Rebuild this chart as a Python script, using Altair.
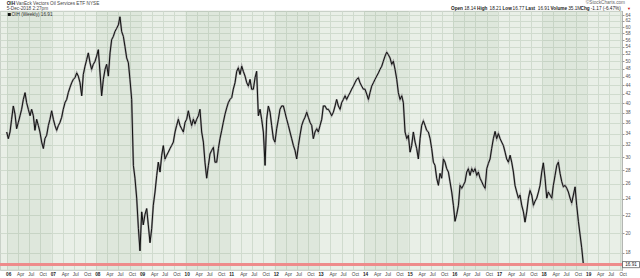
import altair as alt
import pandas as pd

seg_2006_2010 = [
    34.3, 33.1, 34.3, 36.7, 39.4, 37.7, 34.9, 36.1, 37.4, 38.7,
    40.8, 42.3, 40.1, 38.7, 37.4, 38.7, 37.4, 34.6, 36.7, 35.5,
    34.3, 32.5, 31.4, 33.1, 33.7, 35.5, 36.7, 38.4, 36.7, 35.5,
    34.6, 35.5, 36.1, 37.1, 38.7, 40.1, 40.8, 42.3, 43.5, 44.6,
    45.4, 45.8, 47.0, 46.2, 44.6, 41.6, 46.6, 48.7, 50.5, 52.3,
    49.6, 47.9, 49.2, 50.0, 51.4, 53.2, 47.0, 41.6, 45.4, 47.9,
    49.2, 46.2, 52.3, 56.1, 57.1, 58.6, 59.6, 60.7, 63.4, 58.6,
    57.1, 54.1, 50.9, 49.6, 45.4, 40.8, 28.7, 26.8, 24.1, 20.5,
    18.2, 22.4, 20.9, 22.1, 22.8, 20.9, 19.0, 20.5, 23.2, 24.9,
    27.2, 29.2, 27.7, 30.3, 31.9, 29.7, 30.3, 30.8, 31.4, 31.9,
    32.5, 34.3, 35.5, 36.7, 35.5, 34.9, 34.3, 36.1, 36.7, 38.4,
    36.7, 35.5, 36.7, 35.8, 36.7, 37.4, 38.7, 34.3, 32.5, 29.2,
    26.8, 28.7, 30.5, 31.1, 31.6,
]
seg_2010_2015 = [
    29.2, 29.2, 31.4, 33.1, 34.6, 36.1, 37.7, 39.0, 40.1, 40.8,
    41.2, 43.1, 44.6, 47.4, 48.3, 46.6, 48.7, 47.4, 46.2, 44.6,
    43.8, 45.4, 43.1, 43.1, 45.8, 47.4, 37.4, 38.7, 36.7, 34.3,
    28.7, 36.7, 39.4, 38.1, 35.5, 33.1, 32.5, 34.9, 36.7, 38.7,
    39.4, 39.4, 38.1, 36.7, 35.5, 34.3, 33.1, 31.9, 31.1, 29.7,
    31.9, 33.7, 35.5, 36.4, 37.1, 38.1, 37.1, 36.1, 35.5, 33.1,
    34.3, 34.9, 34.3, 35.5, 36.7, 39.4, 39.4, 38.7, 38.7, 38.1,
    37.4, 38.1, 39.4, 40.8, 39.4, 38.7, 40.1, 40.8, 41.6, 40.8,
    41.6, 42.3, 43.1, 43.8, 44.6, 45.4, 45.8, 44.6, 43.8, 43.1,
    43.1, 42.0, 40.8, 42.3, 43.8, 44.6, 45.4, 46.2, 47.0, 47.9,
    48.7, 50.0, 51.4, 52.5, 51.8, 50.9, 49.2, 50.0, 47.9, 45.4,
    42.3, 40.8, 41.6, 40.1, 34.3, 33.1, 33.7, 30.8, 31.9, 34.3,
    32.5, 31.4, 29.7, 33.1, 35.5, 36.4,
]
seg_2015_2018 = [
    35.5, 34.6, 34.3, 33.1, 31.4, 29.2, 28.7, 26.8, 25.8, 27.5,
    26.8, 29.7, 29.2, 28.2, 27.7, 26.3, 24.9, 23.2, 21.3, 22.1,
    23.2, 25.8, 25.4, 25.8, 26.3, 27.7, 28.2, 27.2, 28.2, 27.7,
    28.2, 27.2, 27.7, 26.8, 26.3, 25.8, 25.4, 28.2, 29.0, 29.7,
    31.4, 33.1, 34.4, 33.1, 34.0, 33.1, 32.5, 31.9, 30.8, 29.7,
    29.2, 30.3, 29.2, 27.7, 25.8, 24.9, 24.1, 24.5, 23.2, 22.4,
    21.2, 22.4, 24.1, 25.1, 24.5, 23.2, 23.7, 24.1, 24.9, 25.8,
    27.7, 29.1, 26.8, 24.1, 24.9, 24.5, 24.1, 25.8, 27.2, 28.7,
    29.2, 27.5, 26.3, 25.6, 25.8, 25.4, 24.9, 24.1, 23.5, 24.5,
    25.6, 23.2, 21.3, 19.8, 18.5, 16.91,
]
first_date = "2005-12-29"
last_price = 16.91
y_ticks = list(range(18, 66, 2))
shaded_years = [2006, 2008, 2010, 2012, 2014, 2016, 2018]
tick_years = list(range(2006, 2020))
tick_months = ["01", "04", "07", "10"]
month_names = {"01": None, "04": "Apr", "07": "Jul", "10": "Oct"}

title_name = "VanEck Vectors Oil Services ETF NYSE"
title_date = "5-Dec-2018 2:27pm"
legend_text = "OIH (Weekly) 16.91"
quote_parts = [("Open", "bold"), ("18.14", "normal"), ("High", "bold"), ("18.21", "normal"),
               ("Low", "bold"), ("16.77", "normal"), ("Last", "bold"), ("16.91", "normal"),
               ("Volume", "bold"), ("35.1M", "normal"), ("Chg", "bold"), ("-1.17 (-6.47%)", "normal")]

# ---- tables ----
prices = seg_2006_2010 + seg_2010_2015 + seg_2015_2018
dates = pd.date_range(first_date, periods=len(prices), freq=pd.Timedelta(hours=327.5))
df = pd.DataFrame({"date": dates.strftime("%Y-%m-%d"), "price": prices})
bands = pd.DataFrame({"start": [f"{y}-01-01" for y in shaded_years],
                      "end": [f"{y + 1}-01-01" for y in shaded_years]})
tick_rows = []
for y in tick_years:
    for m in tick_months:
        name = month_names[m]
        tick_rows.append({"date": f"{y}-{m}-01",
                          "label": f"{y % 100:02d}" if name is None else name,
                          "kind": "year" if name is None else "month"})
ticks_df = pd.DataFrame(tick_rows)

FONT = "Liberation Sans"
FS = 4.7
GRID = "#d0dbce"

x_scale = alt.Scale(type="utc", domain=["2005-11-04", "2019-10-14"])
y_scale = alt.Scale(type="log", domain=[16.43, 65.38], nice=False)

x_axis = alt.Axis(values=[r["date"] for r in tick_rows], title=None, labels=False,
                  ticks=False, domain=False, grid=True, gridColor=GRID, gridWidth=1)
y_axis = alt.Axis(
    orient="right", values=y_ticks, format="d", title=None,
    labelFontSize=FS, labelColor="#555", labelFont=FONT, labelPadding=1,
    labelOverlap=False, labelFlush=False, labelBound=False,
    tickSize=2, tickColor="#999", domain=True, domainColor="#999", domainDash=[1, 1],
    grid=True, gridColor=GRID, gridWidth=1,
)

base = alt.Chart(df)

band_layer = alt.Chart(bands).mark_rect(color="#5a7a55", opacity=0.07).encode(
    x=alt.X("start:T", scale=x_scale, axis=x_axis), x2="end:T")

red_line = alt.Chart(df).mark_rule(color="#f08a8a", strokeWidth=1.5).encode(
    y=alt.datum(last_price))

halo = base.mark_line(color="#a0a0a0", strokeWidth=2.0).encode(
    x=alt.X("date:T", scale=x_scale, axis=x_axis),
    y=alt.Y("price:Q", scale=y_scale, axis=y_axis))
line = base.mark_line(color="#111111", strokeWidth=1.0).encode(
    x=alt.X("date:T", scale=x_scale, axis=x_axis), y=alt.Y("price:Q", scale=y_scale, axis=y_axis))

month_labels = alt.Chart(ticks_df).transform_filter("datum.kind == 'month'").mark_text(
    font=FONT, fontSize=FS, color="#444", align="left", baseline="middle", dx=-1).encode(
    x=alt.X("date:T", scale=x_scale, axis=x_axis), y=alt.value(263.5), text="label:N")
year_labels = alt.Chart(ticks_df).transform_filter("datum.kind == 'year'").mark_text(
    font=FONT, fontSize=FS, fontWeight="bold", color="#222", align="left", baseline="middle", dx=-1).encode(
    x=alt.X("date:T", scale=x_scale, axis=x_axis), y=alt.value(263.5), text="label:N")

one = pd.DataFrame({"k": [0]})
box = alt.Chart(one).mark_point(shape="M-1,-0.36L1,-0.36L1,0.36L-1,0.36Z", size=289, filled=True,
                                fill="#ffffff", stroke="#333333", strokeWidth=0.6, opacity=1).encode(
    x=alt.value(631), y=alt.datum(last_price))
box_text = alt.Chart(one).mark_text(text=f"{last_price:.2f}", font=FONT, fontSize=FS, color="#222",
                                    align="center", baseline="middle").encode(
    x=alt.value(631), y=alt.datum(last_price))


def label(text, x, y, weight="normal", align="left", color="#333333", size=FS):
    return alt.Chart(one).mark_text(text=text, font=FONT, fontSize=size, fontWeight=weight,
                                    color=color, align=align, baseline="middle").encode(
        x=alt.value(x), y=alt.value(y))


texts = [
    label("OIH", 6.7, -7, weight="bold", color="#222"),
    label(title_name, 16, -7, color="#444"),
    label(title_date, 6.7, -2, color="#444"),
    label(legend_text, 11.5, 3.5, color="#333"),
    label("©StockCharts.com", 625, -7.7, align="right", color="#666"),
    label("▼", 627, -2, color="#d01010", size=4),
]
legend_sq = alt.Chart(one).mark_square(color="#111", size=9, opacity=1).encode(
    x=alt.value(9.3), y=alt.value(3.5))

quote_x = [451, 464.2, 477, 489.6, 502.5, 512.6, 525.5, 537.8, 550.5, 568.2, 580.5, 590.8]
for (txt, wt), qx in zip(quote_parts, quote_x):
    texts.append(label(txt, qx, -2, weight=wt, color="#222"))

chart = alt.layer(band_layer, halo, line, red_line, month_labels, year_labels,
                  box, box_text, legend_sq, *texts).properties(
    width=622, height=259,
    autosize=alt.AutoSizeParams(type="none"),
    padding={"left": 0, "top": 11, "right": 18, "bottom": 8},
    background="#ffffff",
).configure_view(fill="#e9efe7", stroke="#b4beb2", strokeWidth=0.8)

chart.save("out.html", embed_options={"renderer": "svg", "actions": False})
